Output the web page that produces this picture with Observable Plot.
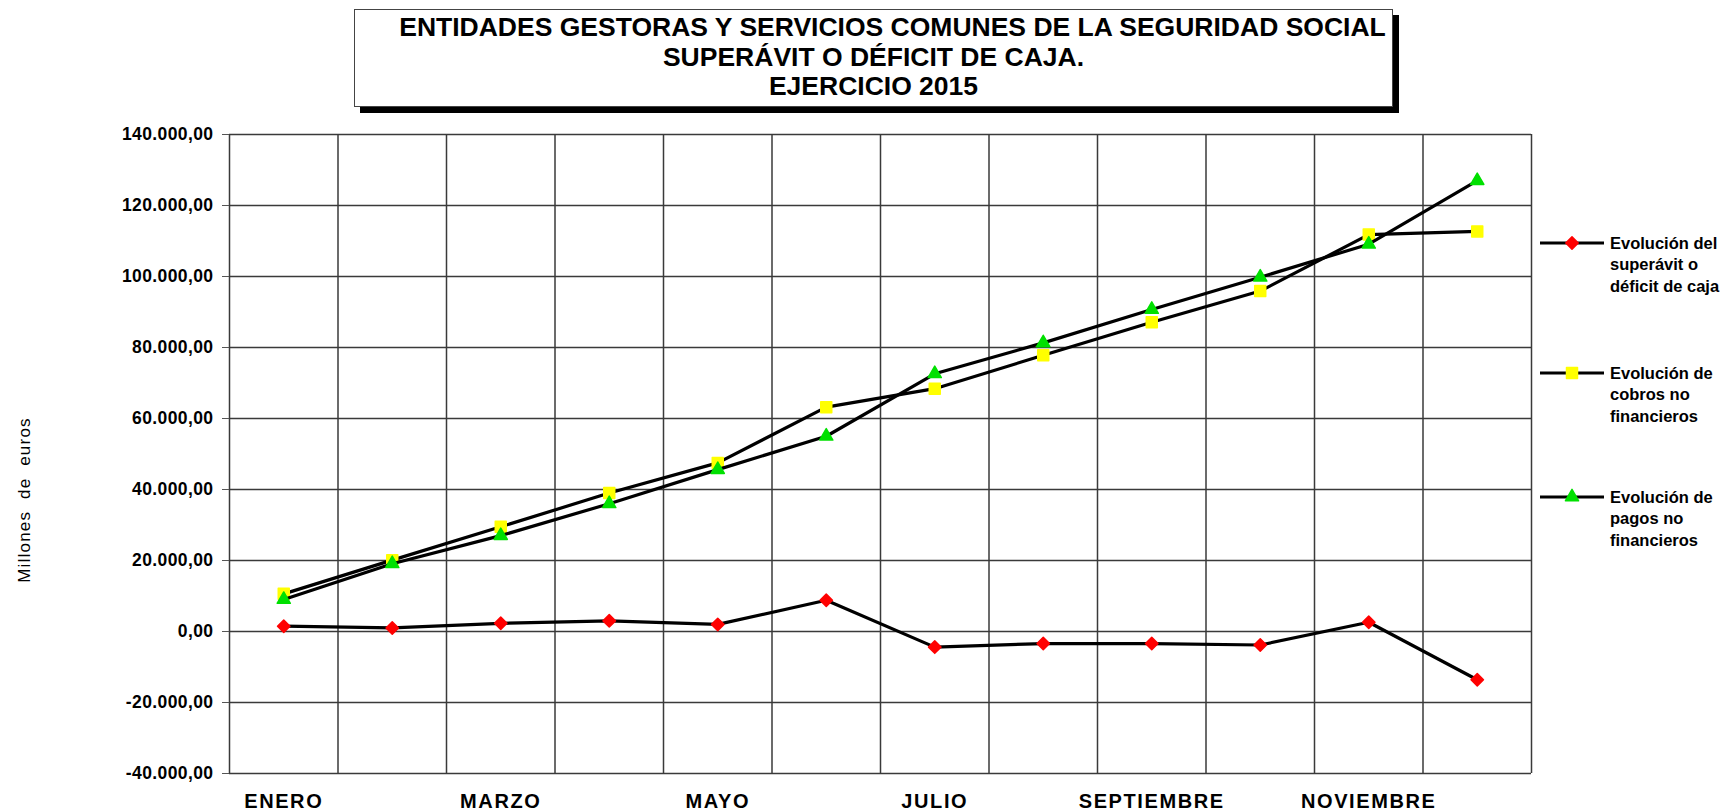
<!DOCTYPE html>
<html>
<head>
<meta charset="utf-8">
<script src="https://cdn.jsdelivr.net/npm/d3@7"></script>
<script src="https://cdn.jsdelivr.net/npm/@observablehq/plot@0.6"></script>
<style>
  html, body { margin: 0; padding: 0; background: #fff; overflow: hidden; }
  #wrap { position: relative; width: 1722px; height: 812px; background: #fff; font-family: "Liberation Sans", Arial, sans-serif; }
  #chart { position: absolute; left: 0; top: 0; }
  #chart svg { display: block; }
  #chart g[aria-label="y-axis tick label"] text { font-weight: bold; letter-spacing: 0.4px; }
  #chart g[aria-label="x-axis tick label"] text { font-weight: bold; letter-spacing: 1.6px; }
  .titlebox { position: absolute; left: 354px; top: 9px; width: 1037px; height: 96px; border: 1.5px solid #444; background: #fff; box-shadow: 6px 6px 0 #000; }
  .tline { position: absolute; left: 354px; width: 1039px; text-align: center; font-weight: bold; font-size: 26.5px; line-height: 30px; white-space: nowrap; color: #000; }
  .ylab { position: absolute; left: 25px; top: 500px; transform: translate(-50%, -50%) rotate(-90deg); font-size: 17px; letter-spacing: 1.2px; white-space: pre; color: #000; }
  .legtext { position: absolute; left: 1610px; font-weight: bold; font-size: 16.5px; line-height: 21.5px; letter-spacing: 0px; white-space: pre; color: #000; }
  #legend { position: absolute; left: 0; top: 0; pointer-events: none; }
</style>
</head>
<body>
<div id="wrap">
  <div id="chart"></div>
</div>
<script>
// ---- data ----
const months = ["ENERO","FEBRERO","MARZO","ABRIL","MAYO","JUNIO","JULIO","AGOSTO","SEPTIEMBRE","OCTUBRE","NOVIEMBRE","DICIEMBRE"];
const superavit = [1500, 1000, 2300, 3000, 2000, 8800, -4400, -3400, -3400, -3800, 2600, -13600];
const cobros = [10600, 20100, 29500, 39000, 47500, 63200, 68400, 77800, 87100, 95900, 111800, 112700];
const pagos = [9000, 19100, 27000, 36000, 45600, 55000, 72600, 81300, 90700, 99800, 109100, 127000];
const seriesNames = ["Evolución del\nsuperávit o\ndéficit de caja", "Evolución de\ncobros no\nfinancieros", "Evolución de\npagos no\nfinancieros"];
const yTicks = [-40000, -20000, 0, 20000, 40000, 60000, 80000, 100000, 120000, 140000];
const xLabelIdx = [0, 2, 4, 6, 8, 10];
const titleLines = ["ENTIDADES GESTORAS Y SERVICIOS COMUNES DE LA SEGURIDAD SOCIAL", "SUPERÁVIT O DÉFICIT DE CAJA.", "EJERCICIO 2015"];
const yLabel = "Millones  de  euros";

// ---- styles ----
const colors = ["#ff0000", "#ffff00", "#00e000"];
const symbols = ["diamond2", "square", "triangle"];
const radii = [5.6, 6.2, 4.9];

const esLocale = d3.formatLocale({decimal: ",", thousands: ".", grouping: [3], currency: ["", ""], minus: "-"});
const fmt = esLocale.format(",.2f");

const allSeries = [superavit, cobros, pagos];
const tables = allSeries.map(vals => vals.map((v, i) => ({i, month: months[i], v})));

const marks = [
  Plot.ruleY(yTicks, {stroke: "#3a3a3a", strokeWidth: 1.5}),
  Plot.ruleX(d3.range(months.length + 1).map(k => k - 0.5), {stroke: "#3a3a3a", strokeWidth: 1.5}),
  Plot.axisY(yTicks, {tickSize: 7, tickPadding: 9, tickFormat: fmt, fontSize: 17.5, stroke: "#555", label: null}),
  Plot.axisX(xLabelIdx, {tickSize: 0, tickPadding: 20, tickFormat: i => months[i], fontSize: 20, label: null})
];
tables.forEach((t, k) => {
  marks.push(Plot.line(t, {x: "i", y: "v", stroke: "#000", strokeWidth: 3.2}));
  marks.push(Plot.dot(t, {x: "i", y: "v", symbol: symbols[k], r: radii[k], fill: colors[k], stroke: colors[k], strokeWidth: 1.5, strokeLinejoin: "round"}));
});

const chart = Plot.plot({
  width: 1722,
  height: 812,
  marginLeft: 229,
  marginRight: 191,
  marginTop: 134,
  marginBottom: 39,
  style: {fontFamily: "'Liberation Sans', Arial, sans-serif", color: "#000", background: "transparent", overflow: "visible"},
  x: {type: "linear", domain: [-0.5, months.length - 0.5]},
  y: {domain: [-40000, 140000]},
  marks
});
document.getElementById("chart").appendChild(chart);

const wrap = document.getElementById("wrap");

// title box
const box = document.createElement("div");
box.className = "titlebox";
wrap.appendChild(box);
const tTops = [12.0, 41.8, 71.4];
const tShift = [19, 0, 0];
titleLines.forEach((t, k) => {
  const d = document.createElement("div");
  d.className = "tline";
  d.style.top = tTops[k] + "px";
  d.style.transform = `translateX(${tShift[k]}px)`;
  d.textContent = t;
  wrap.appendChild(d);
});

// y label
const yl = document.createElement("div");
yl.className = "ylab";
yl.textContent = yLabel;
wrap.appendChild(yl);

// legend
const legY = [243, 373, 497];
const lsvg = d3.select(wrap).append("svg").attr("id", "legend").attr("width", 1722).attr("height", 812);
const symMap = {diamond2: d3.symbolDiamond2, square: d3.symbolSquare, triangle: d3.symbolTriangle};
seriesNames.forEach((name, k) => {
  const y = legY[k];
  lsvg.append("line").attr("x1", 1540).attr("x2", 1604).attr("y1", y).attr("y2", y).attr("stroke", "#000").attr("stroke-width", 3);
  lsvg.append("path").attr("d", d3.symbol(symMap[symbols[k]], radii[k] * radii[k] * Math.PI)())
    .attr("transform", `translate(1572,${y})`).attr("fill", colors[k]).attr("stroke", colors[k]).attr("stroke-width", 1.5).attr("stroke-linejoin", "round");
  const d = document.createElement("div");
  d.className = "legtext";
  d.style.top = (y - 10.5) + "px";
  d.textContent = name;
  wrap.appendChild(d);
});
</script>
</body>
</html>
